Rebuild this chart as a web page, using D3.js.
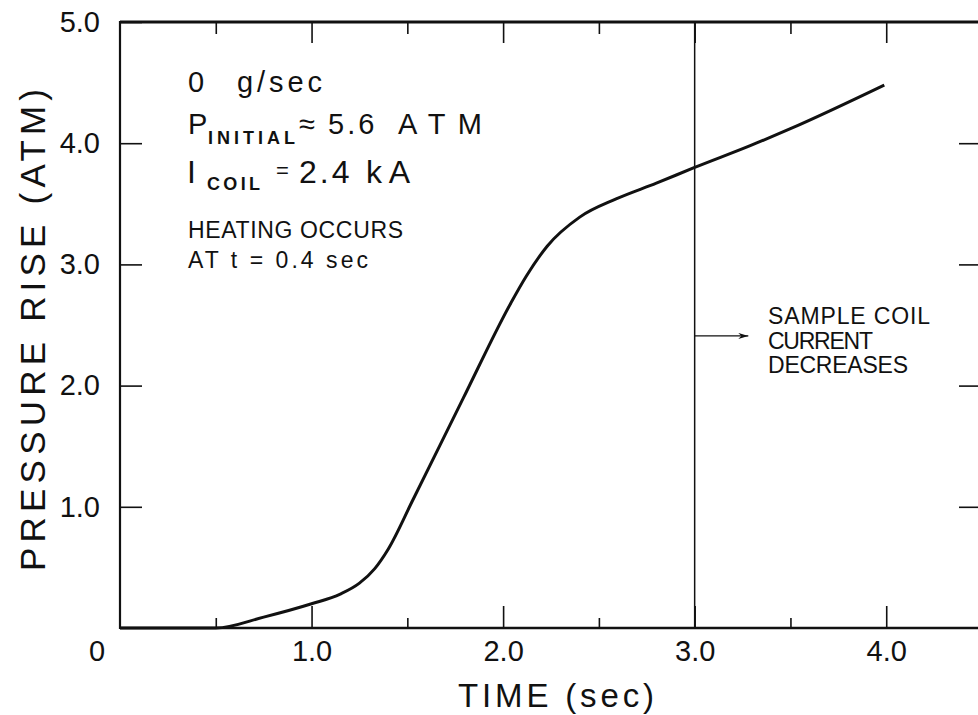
<!DOCTYPE html>
<html>
<head>
<meta charset="utf-8">
<script src="https://cdn.jsdelivr.net/npm/d3@7"></script>
<style>
  html, body { margin: 0; padding: 0; background: #fff; }
  svg { display: block; }
  text { font-family: "Liberation Sans", "DejaVu Sans", sans-serif; fill: #111; }
</style>
</head>
<body>
<svg id="chart" width="978" height="715"></svg>
<script>
// ---- data ----
const timeSec   = [0, 0.5, 0.75, 1.0, 1.15, 1.25, 1.33, 1.40, 1.53, 1.79, 2.04, 2.12, 2.23, 2.40, 2.59, 2.80, 3.0, 3.29, 3.5, 3.99];
const pressure  = [0, 0,   0.09, 0.20, 0.28, 0.37, 0.49, 0.65, 1.06, 1.89, 2.68, 2.90, 3.15, 3.39, 3.54, 3.67, 3.80, 3.98, 4.12, 4.48];
const xMajorTicks = [1, 2, 3, 4];
const xMinorTicks = [0.5, 1.5, 2.5, 3.5];
const xTickLabels = ["1.0", "2.0", "3.0", "4.0"];
const yTicks      = [1, 2, 3, 4, 5];
const yTickLabels = ["1.0", "2.0", "3.0", "4.0", "5.0"];
const originLabel = "0";
const markerTime  = 3.0;          // sample coil current decreases
const arrowY      = 2.41;
const arrowEndT   = 3.28;
const xTitle = "TIME (sec)";
const yTitle = "PRESSURE RISE (ATM)";
const noteLines = ["SAMPLE COIL", "CURRENT", "DECREASES"];

const svg = d3.select("#chart");
const x = d3.scaleLinear().domain([0, 4.5]).range([120, 982]);
const y = d3.scaleLinear().domain([0, 5]).range([628, 22]);
const ink = "#111";

const axisStyle = g => {
  g.select(".domain").remove();
  g.selectAll(".tick line").attr("stroke", ink).attr("stroke-width", 1.6);
};

// left axis (ticks inward, labels outside)
const yFmt = d => yTickLabels[yTicks.indexOf(d)];
svg.append("g").attr("transform", `translate(${x(0)},0)`)
  .call(d3.axisLeft(y).tickValues(yTicks).tickSize(-22).tickPadding(20).tickFormat(yFmt))
  .call(axisStyle)
  .call(g => g.selectAll("text").attr("font-size", 29).attr("fill", ink).style("font-family", "Liberation Sans"));

// right axis (ticks inward)
svg.append("g").attr("transform", `translate(${x(4.5)},0)`)
  .call(d3.axisRight(y).tickValues(yTicks.slice(0, 4)).tickSize(-23).tickFormat(""))
  .call(axisStyle);

// bottom axis
const xFmt = d => xTickLabels[xMajorTicks.indexOf(d)];
svg.append("g").attr("transform", `translate(0,${y(0)})`)
  .call(d3.axisBottom(x).tickValues(xMajorTicks).tickSize(-22).tickPadding(12).tickFormat(xFmt))
  .call(axisStyle)
  .call(g => g.selectAll("text").attr("font-size", 29).attr("fill", ink).style("font-family", "Liberation Sans"));
svg.append("g").attr("transform", `translate(0,${y(0)})`)
  .call(d3.axisBottom(x).tickValues(xMinorTicks).tickSize(-10).tickFormat(""))
  .call(axisStyle);

// top axis
svg.append("g").attr("transform", `translate(0,${y(5)})`)
  .call(d3.axisTop(x).tickValues(xMajorTicks).tickSize(-21).tickFormat(""))
  .call(axisStyle);
svg.append("g").attr("transform", `translate(0,${y(5)})`)
  .call(d3.axisTop(x).tickValues(xMinorTicks).tickSize(-12).tickFormat(""))
  .call(axisStyle);

// origin label
svg.append("text").attr("x", x(0) - 23).attr("y", y(0) + 33)
  .attr("text-anchor", "middle").attr("font-size", 29).text(originLabel);

// frame lines
svg.append("line").attr("x1", x(0)).attr("x2", x(4.5)).attr("y1", y(5)).attr("y2", y(5))
  .attr("stroke", ink).attr("stroke-width", 3);
svg.append("line").attr("x1", x(0)).attr("x2", x(0)).attr("y1", y(5) - 1).attr("y2", y(0) + 1)
  .attr("stroke", ink).attr("stroke-width", 2.2);
svg.append("line").attr("x1", x(0)).attr("x2", x(4.5)).attr("y1", y(0)).attr("y2", y(0))
  .attr("stroke", ink).attr("stroke-width", 2.4);

// vertical marker line
svg.append("line").attr("x1", x(markerTime)).attr("x2", x(markerTime))
  .attr("y1", y(5)).attr("y2", y(0)).attr("stroke", ink).attr("stroke-width", 1.5);

// arrow
svg.append("defs").append("marker").attr("id", "ah")
  .attr("viewBox", "0 0 10 6").attr("refX", 10).attr("refY", 3)
  .attr("markerWidth", 12).attr("markerHeight", 6).attr("markerUnits", "userSpaceOnUse")
  .attr("orient", "auto")
  .append("path").attr("d", "M0,0 L10,3 L0,6 L3,3 Z").attr("fill", ink);
svg.append("line").attr("x1", x(markerTime)).attr("x2", x(arrowEndT))
  .attr("y1", y(arrowY)).attr("y2", y(arrowY))
  .attr("stroke", ink).attr("stroke-width", 1.4).attr("marker-end", "url(#ah)");

// curve
const line = d3.line().x((d, i) => x(timeSec[i])).y((d, i) => y(pressure[i])).curve(d3.curveMonotoneX);
svg.append("path").datum(pressure).attr("d", line)
  .attr("fill", "none").attr("stroke", ink).attr("stroke-width", 3).attr("stroke-linejoin", "round");

// axis titles
svg.append("text").attr("x", 556).attr("y", 707).attr("text-anchor", "middle")
  .attr("font-size", 33).attr("textLength", 196).attr("lengthAdjust", "spacing").text(xTitle);
svg.append("text").attr("transform", "translate(45,330) rotate(-90)").attr("text-anchor", "middle")
  .attr("font-size", 35).attr("textLength", 482).attr("lengthAdjust", "spacing").text(yTitle);

// annotations (top-left)
const t1 = svg.append("text").attr("y", 92).attr("font-size", 29);
t1.append("tspan").attr("x", 188).text("0");
t1.append("tspan").attr("x", 237).attr("textLength", 85).attr("lengthAdjust", "spacing").text("g/sec");

const t2 = svg.append("text").attr("y", 134).attr("font-size", 29);
t2.append("tspan").attr("x", 188).text("P");
t2.append("tspan").attr("x", 208).attr("y", 144).attr("font-size", 18).attr("font-weight", "bold")
  .attr("textLength", 87).attr("lengthAdjust", "spacing").text("INITIAL");
t2.append("tspan").attr("x", 299).attr("y", 134).text("≈");
t2.append("tspan").attr("x", 328).attr("y", 134).style("letter-spacing", "3px").text("5.6");
t2.append("tspan").attr("x", 398).attr("y", 134).attr("textLength", 84).attr("lengthAdjust", "spacing").text("ATM");

const t3 = svg.append("text").attr("y", 183).attr("font-size", 32);
t3.append("tspan").attr("x", 187).text("I");
t3.append("tspan").attr("x", 207).attr("y", 190).attr("font-size", 18).attr("font-weight", "bold")
  .attr("textLength", 53).attr("lengthAdjust", "spacing").text("COIL");
t3.append("tspan").attr("x", 276).attr("y", 178).attr("font-size", 22).text("=");
t3.append("tspan").attr("x", 299).attr("y", 183).style("letter-spacing", "3px").text("2.4");
t3.append("tspan").attr("x", 366).attr("y", 183).attr("textLength", 44).attr("lengthAdjust", "spacing").text("kA");

svg.append("text").attr("x", 188).attr("y", 238).attr("font-size", 23)
  .attr("textLength", 215).attr("lengthAdjust", "spacing").text("HEATING OCCURS");
svg.append("text").attr("x", 188).attr("y", 268).attr("font-size", 23)
  .attr("textLength", 180).attr("lengthAdjust", "spacing").text("AT t = 0.4 sec");

// note at right
const noteWidths = [162, 105, 140];
noteLines.forEach((s, i) => {
  svg.append("text").attr("x", 768).attr("y", 324 + i * 24.5).attr("font-size", 23)
    .attr("textLength", noteWidths[i]).attr("lengthAdjust", "spacing").text(s);
});
</script>
</body>
</html>
